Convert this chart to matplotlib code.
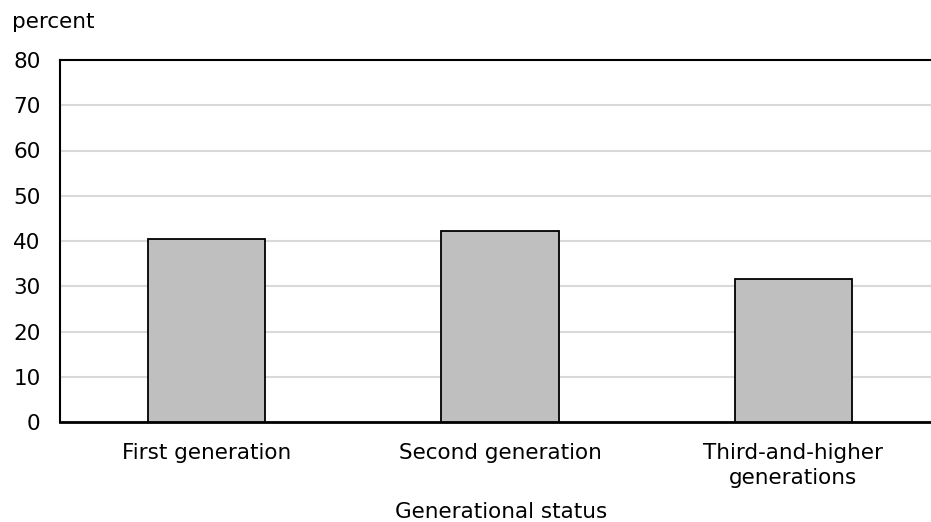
import numpy as np
import matplotlib
matplotlib.use("Agg")
from matplotlib import pyplot as plt

# donnees
categories = ["First generation", "Second generation", "Third-and-higher\ngenerations"]
valeurs = [40.4, 42.2, 31.6]
yticks = [0, 10, 20, 30, 40, 50, 60, 70, 80]

plt.rcParams["font.family"] = ["DejaVu Sans"]
FS = 15.5

W, H = 931, 522
fig = plt.figure(figsize=(W / 100, H / 100), dpi=100)
# zone du trace en pixels : gauche 60, droite ~940 (deborde), haut 60, bas 422
x0, x1, y0, y1 = 60, 940, 60, 422
ax = fig.add_axes([x0 / W, 1 - y1 / H, (x1 - x0) / W, (y1 - y0) / H])

x = np.arange(len(categories))
ax.bar(x, valeurs, width=0.40, color="#bfbfbf", edgecolor="black", linewidth=1.3, zorder=3)

ax.set_xlim(-0.5, len(categories) - 0.5)
ax.set_ylim(0, 80)
ax.set_yticks(yticks)
ax.set_xticks(x)
ax.set_xticklabels(categories, fontsize=FS, linespacing=1.35)
ax.tick_params(axis="y", labelsize=FS, length=0, pad=14)
ax.tick_params(axis="x", length=0, pad=15)
ax.grid(axis="y", color="#d9d9d9", linewidth=1.5, zorder=0)
ax.set_axisbelow(True)

ax.spines["right"].set_visible(False)
ax.spines["top"].set_linewidth(1.5)
ax.spines["left"].set_linewidth(1.5)
ax.spines["bottom"].set_linewidth(2.0)
for s in ["top", "left", "bottom"]:
    ax.spines[s].set_color("black")

fig.text(12 / W, 1 - 28 / H, "percent", fontsize=FS, ha="left", va="baseline")
fig.text(501 / W, 1 - 518 / H, "Generational status", fontsize=FS, ha="center", va="baseline")

fig.savefig("out.png", dpi=100)
